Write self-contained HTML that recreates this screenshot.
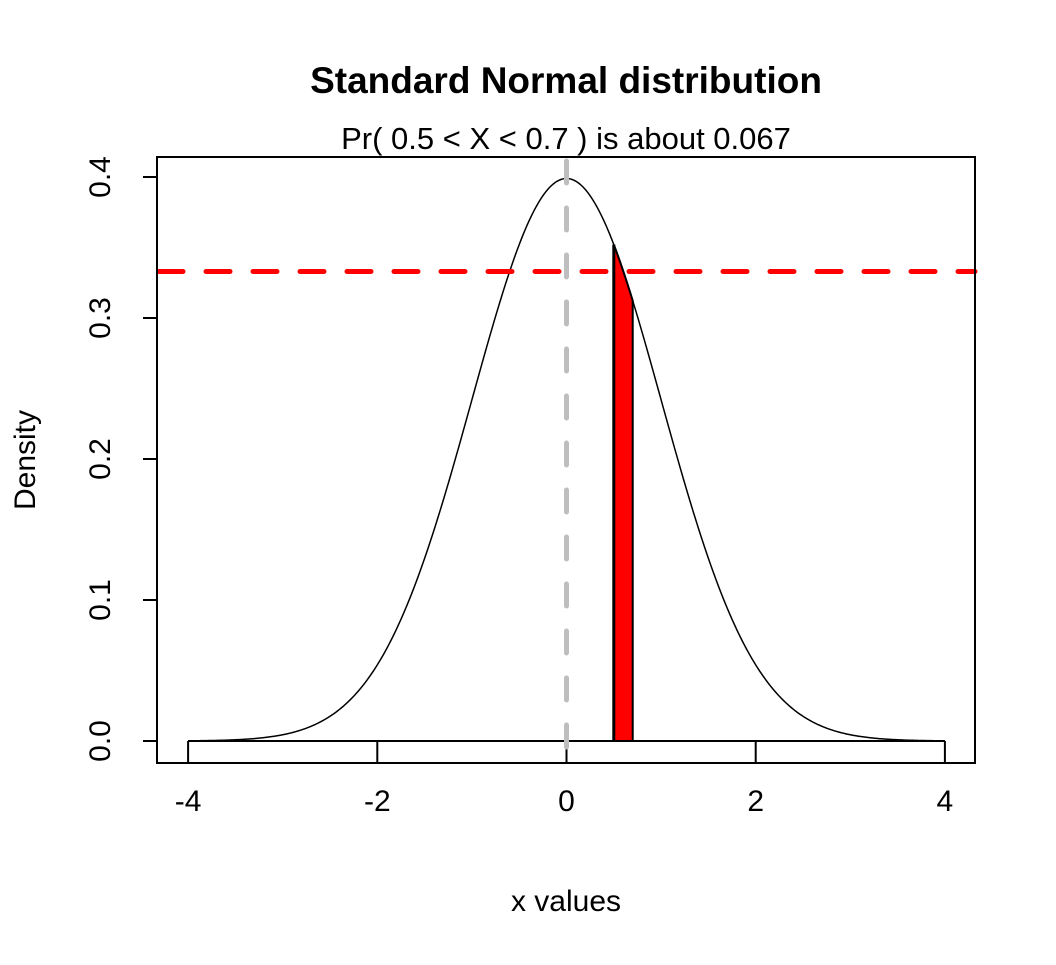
<!DOCTYPE html>
<html><head><meta charset="utf-8"><style>
html,body{margin:0;padding:0;background:#fff;}
svg text{font-family:"Liberation Sans",Arial,sans-serif;}
</style></head><body>
<svg id="chart" width="1056" height="960" viewBox="0 0 1056 960" xmlns="http://www.w3.org/2000/svg">
<rect width="1056" height="960" fill="#fff"/>
<text x="566" y="93" text-anchor="middle" font-size="37" font-weight="bold">Standard Normal distribution</text>
<text x="566" y="149" text-anchor="middle" font-size="31">Pr( 0.5 &lt; X &lt; 0.7 ) is about 0.067</text>
<text x="566" y="911" text-anchor="middle" font-size="30">x values</text>
<text x="35" y="460" text-anchor="middle" font-size="30" transform="rotate(-90 35 460)">Density</text>
<g id="marks"></g>
<rect x="157" y="157" width="818" height="606" fill="none" stroke="#000" stroke-width="2"/>
</svg>
<script>
const xTicks = [-4, -2, 0, 2, 4];
const yTicks = [0.0, 0.1, 0.2, 0.3, 0.4];
const yTickLabels = ["0.0", "0.1", "0.2", "0.3", "0.4"];
const intervalLow = [0.5];
const intervalHigh = [0.7];
const refLineY = [0.333];
const refLineX = [0];

const X = v => 566.5 + v * 94.6;
const Y = v => 741 - v * 1410;
const dn = x => Math.exp(-x * x / 2) / Math.sqrt(2 * Math.PI);
const NS = "http://www.w3.org/2000/svg";
const g = document.getElementById('marks');
function mk(tag, attrs) {
  const e = document.createElementNS(NS, tag);
  for (const k in attrs) e.setAttribute(k, attrs[k]);
  g.appendChild(e);
  return e;
}

let pts = [[X(intervalLow[0]), Y(0)]];
for (let i = 0; i <= 40; i++) {
  const x = intervalLow[0] + (intervalHigh[0] - intervalLow[0]) * i / 40;
  pts.push([X(x), Y(dn(x))]);
}
pts.push([X(intervalHigh[0]), Y(0)]);
const poly = mk('polygon', {points: pts.map(p => p.join(',')).join(' '), fill: '#ff0000', stroke: '#000', 'stroke-width': 2});


const edge = mk('line', {x1: X(intervalLow[0]), x2: X(intervalLow[0]), y1: Y(0), y2: Y(dn(intervalLow[0])), stroke: '#000', 'stroke-width': 3});



let c = [];
for (let i = 0; i <= 400; i++) {
  const x = -4 + 8 * i / 400;
  c.push(X(x).toFixed(2) + ',' + Y(dn(x)).toFixed(2));
}
const curve = mk('polyline', {points: c.join(' '), fill: 'none', stroke: '#000', 'stroke-width': 1.5});



const base = mk('line', {x1: X(-4), x2: X(4), y1: Y(0), y2: Y(0), stroke: '#000', 'stroke-width': 2});



xTicks.forEach(t => {
  const l = mk('line', {x1: X(t), x2: X(t), y1: 741, y2: 763, stroke: '#000', 'stroke-width': 2});
  
  
  const tx = mk('text', {x: X(t), y: 811, 'text-anchor': 'middle', 'font-size': 30});
  tx.textContent = String(t);
  
  
});
yTicks.forEach((t, i) => {
  const l = mk('line', {x1: 143, x2: 157, y1: Y(t), y2: Y(t), stroke: '#000', 'stroke-width': 2});
  
  
  const tx = mk('text', {x: 110, y: Y(t), 'text-anchor': 'middle', 'font-size': 30, transform: 'rotate(-90 110 ' + Y(t) + ')'});
  tx.textContent = yTickLabels[i];
  
  
});

const vl = mk('line', {x1: X(refLineX[0]), x2: X(refLineX[0]), y1: 157, y2: 763, stroke: '#bebebe', 'stroke-width': 5, 'stroke-dasharray': '22 25', 'stroke-linecap': 'round', 'stroke-dashoffset': '-4'});


const hl = mk('line', {x1: 159, x2: 975, y1: Y(refLineY[0]), y2: Y(refLineY[0]), stroke: '#ff0000', 'stroke-width': 5, 'stroke-dasharray': '24 23', 'stroke-linecap': 'round'});


</script>
</body></html>
